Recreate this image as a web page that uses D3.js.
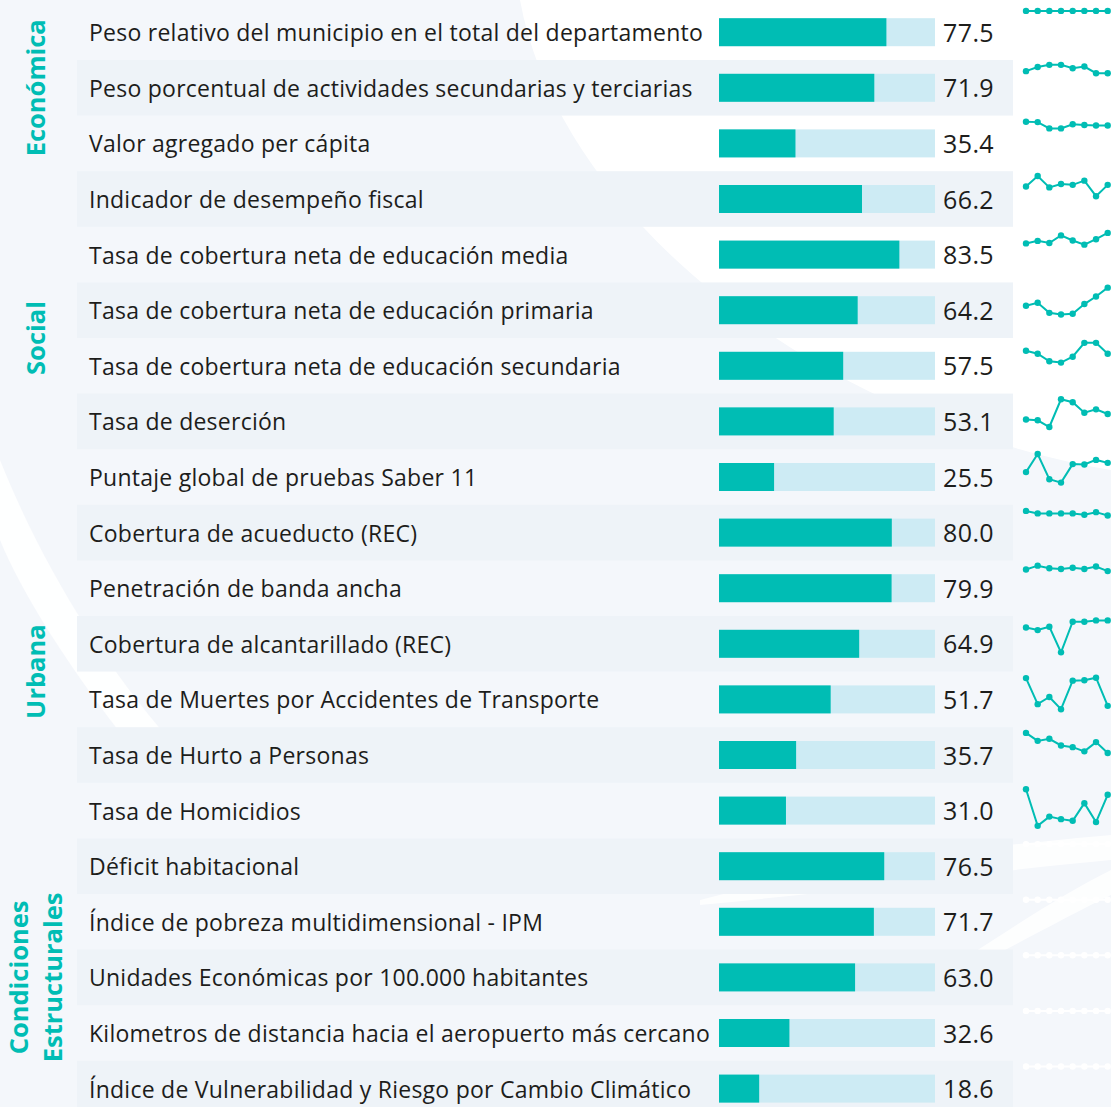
<!DOCTYPE html>
<html>
<head>
<meta charset="utf-8">
<script src="https://cdn.jsdelivr.net/npm/d3@7"></script>
<style>
  body { margin: 0; background: #f4f7fb; }
  svg { display: block; font-family: "Open Sans", sans-serif; }
</style>
</head>
<body>
<div class="chart"></div>
<script>

// indicator names, top to bottom
var indicators = [
  'Peso relativo del municipio en el total del departamento',
  'Peso porcentual de actividades secundarias y terciarias',
  'Valor agregado per cápita',
  'Indicador de desempeño fiscal',
  'Tasa de cobertura neta de educación media',
  'Tasa de cobertura neta de educación primaria',
  'Tasa de cobertura neta de educación secundaria',
  'Tasa de deserción',
  'Puntaje global de pruebas Saber 11',
  'Cobertura de acueducto (REC)',
  'Penetración de banda ancha',
  'Cobertura de alcantarillado (REC)',
  'Tasa de Muertes por Accidentes de Transporte',
  'Tasa de Hurto a Personas',
  'Tasa de Homicidios',
  'Déficit habitacional',
  'Índice de pobreza multidimensional - IPM',
  'Unidades Económicas por 100.000 habitantes',
  'Kilometros de distancia hacia el aeropuerto más cercano',
  'Índice de Vulnerabilidad y Riesgo por Cambio Climático'
]

var scores = [77.5, 71.9, 35.4, 66.2, 83.5, 64.2, 57.5, 53.1, 25.5, 80.0,
              79.9, 64.9, 51.7, 35.7, 31.0, 76.5, 71.7, 63.0, 32.6, 18.6]

// dimension groups and how many indicators each one spans
var groupNames = [['Económica'], ['Social'], ['Urbana'], ['Condiciones', 'Estructurales']]
var groupSizes = [3, 6, 6, 5]

// history of each indicator (relative to its best year), 8 periods
var trends = [
  [94, 94, 94, 94, 94, 94, 94, 94],
  [83, 93, 98, 98, 90, 94, 78, 78],
  [95, 94, 79, 79, 89, 87, 86, 86],
  [73, 98, 71, 79, 77, 87, 50, 77],
  [70, 76, 71, 89, 77, 67, 80, 95],
  [54, 61, 37, 33, 35, 58, 76, 97],
  [79, 72, 54, 51, 65, 98, 98, 72],
  [48, 46, 30, 96, 89, 64, 72, 61],
  [55, 98, 38, 30, 74, 73, 84, 77],
  [95, 89, 89, 89, 89, 86, 92, 84],
  [88, 97, 91, 89, 92, 89, 95, 84],
  [82, 76, 84, 23, 96, 96, 99, 99],
  [94, 32, 49, 20, 88, 89, 95, 28],
  [96, 77, 82, 66, 62, 52, 74, 48],
  [94, 7, 29, 23, 19, 61, 16, 81],
  [96, 96, 96, 96, 96, 96, 96, 96],
  [96, 96, 96, 96, 96, 96, 96, 96],
  [96, 96, 96, 96, 96, 96, 96, 96],
  [96, 96, 96, 96, 96, 96, 96, 96],
  [96, 96, 96, 96, 96, 96, 96, 96]
]
// structural indicators have no visible history
var hiddenTrend = [false, false, false, false, false, false, false, false, false, false,
                   false, false, false, false, false, true, true, true, true, true]

var teal = '#00bdb4'
var width = 1111, height = 1107

var svg = d3.select('.chart')
    .append('svg')
    .attr('width', width)
    .attr('height', height)

// ---- decorative background swooshes ----
var bg = svg.append('g')
bg.append('rect').attr('width', width).attr('height', height).attr('fill', '#f4f7fb')
bg.append('path')
    .attr('d', 'M520,0 C560,220 820,420 1111,470 L1111,0 Z')
    .attr('fill', '#ffffff')
bg.append('path')
    .attr('d', 'M0,460 C40,560 100,660 170,740 L130,745 C70,670 20,590 0,540 Z')
    .attr('fill', '#ffffff')
    .attr('opacity', 0.9)
bg.append('path')
    .attr('d', 'M700,900 C850,860 1000,845 1111,835 L1111,860 C1000,870 860,890 700,905 Z')
    .attr('fill', '#ffffff')
    .attr('opacity', 0.8)
bg.append('path')
    .attr('d', 'M900,1000 C980,950 1050,900 1111,870 L1111,895 C1050,925 980,965 900,1003 Z')
    .attr('fill', '#ffffff')
    .attr('opacity', 0.8)

var y = d3.scaleBand()
    .domain(indicators)
    .range([4.4, 4.4 + 55.6 * indicators.length])

var x = d3.scaleLinear()
    .domain([0, 100])
    .range([719, 935])

// zebra rows
svg.append('g').selectAll('rect')
    .data(indicators.filter(function(d, i) { return i % 2 == 1 }))
    .enter()
    .append('rect')
    .attr('x', 77)
    .attr('y', function(d) { return y(d) })
    .attr('width', 1013 - 77)
    .attr('height', y.bandwidth())
    .attr('fill', '#eef3f8')

var rows = svg.append('g').selectAll('g')
    .data(indicators)
    .enter()
    .append('g')
    .attr('transform', function(d) { return 'translate(0,' + (y(d) + y.bandwidth() / 2) + ')' })

rows.append('text')
    .attr('x', 89)
    .attr('y', 9)
    .attr('font-size', 23)
    .attr('letter-spacing', 0.25)
    .attr('fill', '#1d1d1b')
    .text(function(d) { return d })

// full track then the score
rows.append('rect')
    .attr('x', x(0))
    .attr('y', -14)
    .attr('width', x(100) - x(0))
    .attr('height', 28)
    .attr('fill', '#cdebf4')

rows.append('rect')
    .attr('x', x(0))
    .attr('y', -14)
    .attr('width', function(d, i) { return x(scores[i]) - x(0) })
    .attr('height', 28)
    .attr('fill', teal)

rows.append('text')
    .attr('x', 943)
    .attr('y', 9.5)
    .attr('font-size', 25)
    .attr('letter-spacing', 0.4)
    .attr('fill', '#1d1d1b')
    .text(function(d, i) { return scores[i].toFixed(1) })

// ---- sparklines ----
var sx = d3.scaleLinear().domain([0, 7]).range([1026, 1107.7])
var sy = d3.scaleLinear().domain([0, 100]).range([46, 4])
var line = d3.line()
    .x(function(d, i) { return sx(i) })
    .y(function(d) { return sy(d) })

var spark = svg.append('g').selectAll('g')
    .data(trends)
    .enter()
    .append('g')
    .attr('transform', function(d, i) { return 'translate(0,' + y(indicators[i]) + ')' })

spark.append('path')
    .attr('d', function(d) { return line(d) })
    .attr('fill', 'none')
    .attr('stroke', function(d, i) { return hiddenTrend[i] ? '#ffffff' : teal })
    .attr('stroke-width', 2)

spark.selectAll('circle')
    .data(function(d, i) { return d.map(function(v) { return { v: v, hidden: hiddenTrend[i] } }) })
    .enter()
    .append('circle')
    .attr('cx', function(d, i) { return sx(i) })
    .attr('cy', function(d) { return sy(d.v) })
    .attr('r', 3.2)
    .attr('fill', function(d) { return d.hidden ? '#ffffff' : teal })

// ---- group labels on the left ----
var start = 0
groupNames.forEach(function(lines, g) {
    var first = indicators[start]
    var last = indicators[start + groupSizes[g] - 1]
    var mid = (y(first) + y(last) + y.bandwidth()) / 2
    var label = svg.append('text')
        .attr('transform', 'translate(' + (lines.length > 1 ? 28 : 45) + ',' + mid + ') rotate(-90)')
        .attr('text-anchor', 'middle')
        .attr('font-size', 25.5)
        .attr('font-weight', 'bold')
        .attr('fill', teal)
    lines.forEach(function(t, k) {
        label.append('tspan')
            .attr('x', 0)
            .attr('dy', k == 0 ? 0 : 34)
            .text(t)
    })
    start += groupSizes[g]
})

</script>
</body>
</html>
